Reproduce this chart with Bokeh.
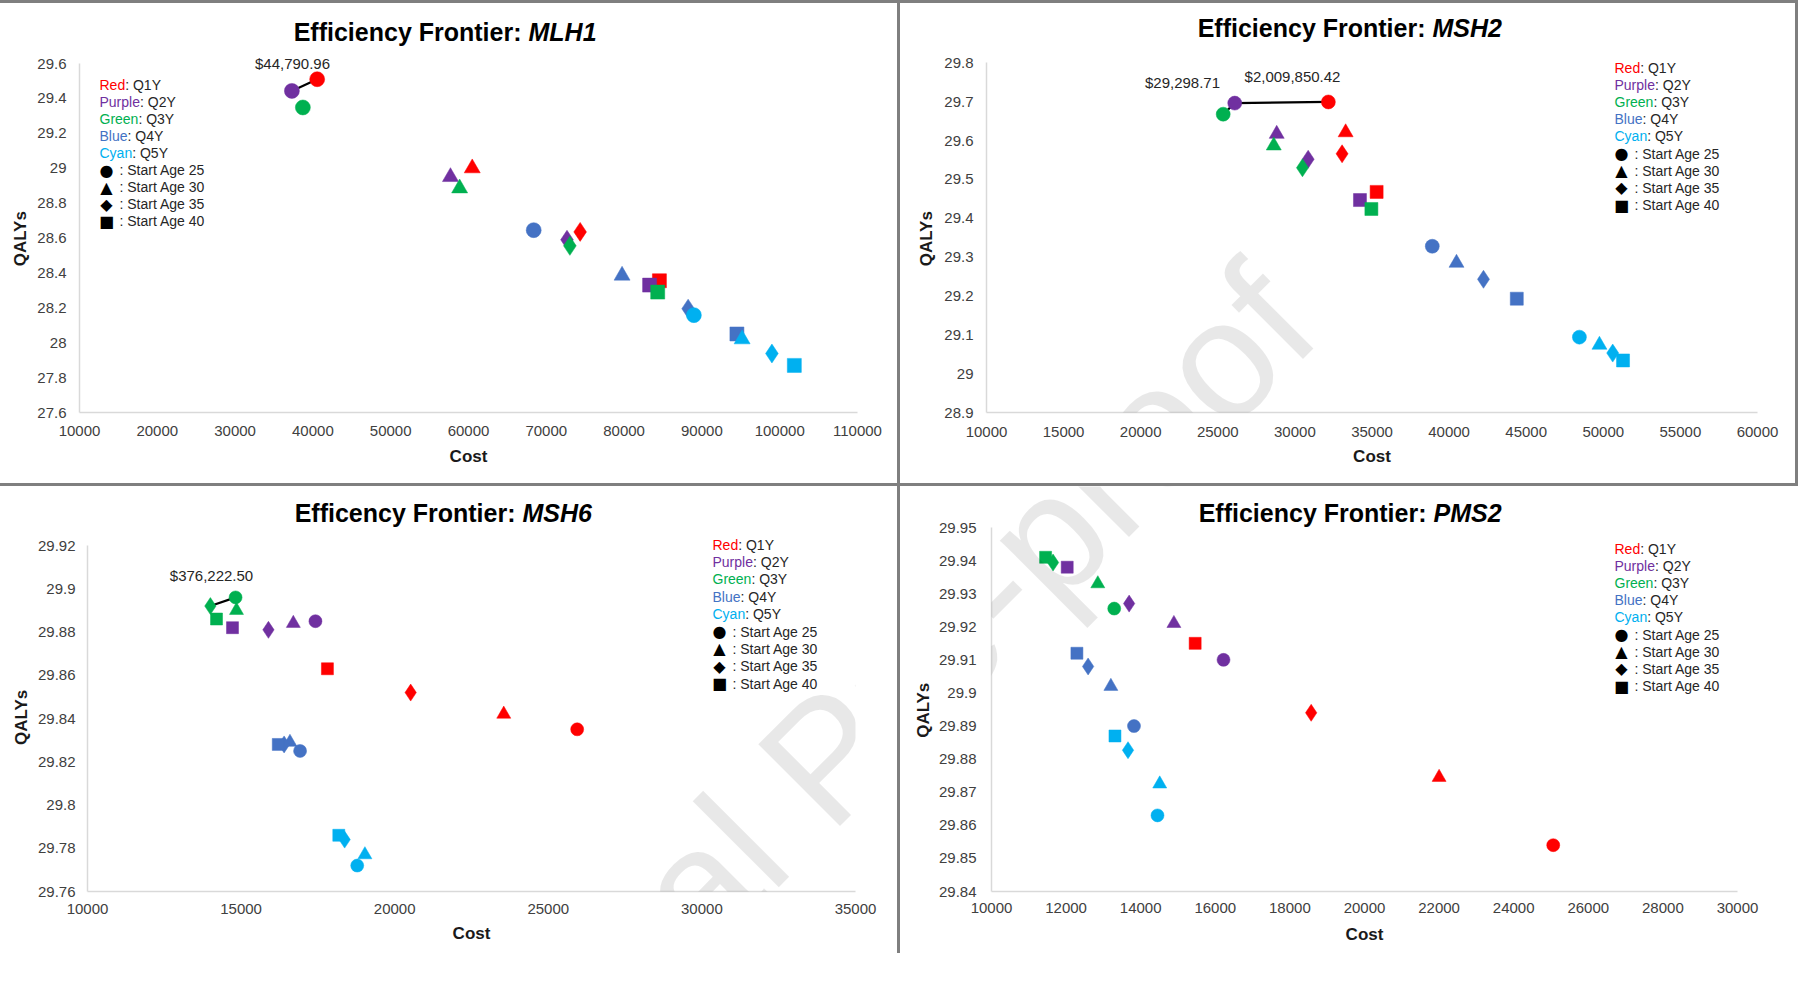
from bokeh.plotting import figure
from bokeh.models import Label, CustomJSTickFormatter, FixedTicker, Div
from bokeh.layouts import row, column
from bokeh.embed import file_html
from bokeh.resources import INLINE

# ---------------- data ----------------
SERIES = ["Q1Y", "Q2Y", "Q3Y", "Q4Y", "Q5Y"]
SERIES_WORDS = ["Red", "Purple", "Green", "Blue", "Cyan"]
START_AGES = [25, 30, 35, 40]

# values ordered series by series (Q1Y..Q5Y), start age 25, 30, 35, 40 within each
MLH1_COST = [40550, 60480, 74350, 84540,
             37300, 57680, 72660, 83280,
             38710, 58860, 73030, 84320,
             68380, 79740, 88230, 94500,
             88970, 95170, 99000, 101880]
MLH1_QALY = [29.51, 29.00, 28.635, 28.355,
             29.443, 28.95, 28.59, 28.33,
             29.348, 28.885, 28.555, 28.29,
             28.645, 28.385, 28.195, 28.05,
             28.158, 28.02, 27.938, 27.87]

MSH2_COST = [32170, 33290, 33060, 35300,
             26100, 28820, 30860, 34220,
             25350, 28630, 30490, 34960,
             38910, 40480, 42230, 44390,
             48450, 49750, 50610, 51280]
MSH2_QALY = [29.6995, 29.621, 29.566, 29.468,
             29.6965, 29.617, 29.552, 29.447,
             29.668, 29.587, 29.530, 29.424,
             29.328, 29.285, 29.243, 29.193,
             29.094, 29.074, 29.053, 29.034]

MSH6_COST = [25940, 23550, 20520, 17810,
             17420, 16700, 15890, 14720,
             14820, 14850, 14000, 14200,
             16920, 16590, 16400, 16210,
             18780, 19030, 18370, 18180]
MSH6_QALY = [29.835, 29.842, 29.852, 29.863,
             29.885, 29.884, 29.881, 29.882,
             29.896, 29.890, 29.892, 29.886,
             29.825, 29.829, 29.828, 29.828,
             29.772, 29.777, 29.784, 29.786]

PMS2_COST = [25060, 22000, 18570, 15460,
             16220, 14890, 13690, 12030,
             13290, 12850, 11650, 11450,
             13820, 13200, 12590, 12290,
             14450, 14510, 13660, 13310]
PMS2_QALY = [29.854, 29.8745, 29.894, 29.915,
             29.910, 29.921, 29.927, 29.938,
             29.9255, 29.933, 29.9394, 29.941,
             29.890, 29.902, 29.908, 29.912,
             29.863, 29.8725, 29.8827, 29.887]

# efficiency frontier: (series, start age) in order
MLH1_FRONTIER = [("Q2Y", 25), ("Q1Y", 25)]
MSH2_FRONTIER = [("Q3Y", 25), ("Q2Y", 25), ("Q1Y", 25)]
MSH6_FRONTIER = [("Q3Y", 35), ("Q3Y", 25)]
PMS2_FRONTIER = []

MLH1_ICER = ["$44,790.96"]
MSH2_ICER = ["$29,298.71", "$2,009,850.42"]
MSH6_ICER = ["$376,222.50"]
PMS2_ICER = []

MLH1_XTICKS = [10000, 20000, 30000, 40000, 50000, 60000, 70000, 80000, 90000, 100000, 110000]
MLH1_XLABELS = ["10000", "20000", "30000", "40000", "50000", "60000", "70000", "80000", "90000", "100000", "110000"]
MLH1_YTICKS = [27.6, 27.8, 28.0, 28.2, 28.4, 28.6, 28.8, 29.0, 29.2, 29.4, 29.6]
MLH1_YLABELS = ["27.6", "27.8", "28", "28.2", "28.4", "28.6", "28.8", "29", "29.2", "29.4", "29.6"]

MSH2_XTICKS = [10000, 15000, 20000, 25000, 30000, 35000, 40000, 45000, 50000, 55000, 60000]
MSH2_XLABELS = ["10000", "15000", "20000", "25000", "30000", "35000", "40000", "45000", "50000", "55000", "60000"]
MSH2_YTICKS = [28.9, 29.0, 29.1, 29.2, 29.3, 29.4, 29.5, 29.6, 29.7, 29.8]
MSH2_YLABELS = ["28.9", "29", "29.1", "29.2", "29.3", "29.4", "29.5", "29.6", "29.7", "29.8"]

MSH6_XTICKS = [10000, 15000, 20000, 25000, 30000, 35000]
MSH6_XLABELS = ["10000", "15000", "20000", "25000", "30000", "35000"]
MSH6_YTICKS = [29.76, 29.78, 29.80, 29.82, 29.84, 29.86, 29.88, 29.90, 29.92]
MSH6_YLABELS = ["29.76", "29.78", "29.8", "29.82", "29.84", "29.86", "29.88", "29.9", "29.92"]

PMS2_XTICKS = [10000, 12000, 14000, 16000, 18000, 20000, 22000, 24000, 26000, 28000, 30000]
PMS2_XLABELS = ["10000", "12000", "14000", "16000", "18000", "20000", "22000", "24000", "26000", "28000", "30000"]
PMS2_YTICKS = [29.84, 29.85, 29.86, 29.87, 29.88, 29.89, 29.90, 29.91, 29.92, 29.93, 29.94, 29.95]
PMS2_YLABELS = ["29.84", "29.85", "29.86", "29.87", "29.88", "29.89", "29.9", "29.91", "29.92", "29.93", "29.94", "29.95"]

# ---------------- styling ----------------
COLORS = ["#FF0000", "#7030A0", "#00B050", "#4472C4", "#00B0F0"]
MARKERS = ["circle", "triangle", "diamond", "square"]
LEGEND_GLYPHS = ["\u25CF", "\u25B2", "\u25C6", "\u25A0"]
FONT = "Liberation Sans"
WATERMARK = "Journal Pre-proof"
NBSP = "\u00a0"

ARIAL_W = {"R": .722, "e": .556, "d": .556, "P": .667, "u": .556, "r": .333, "p": .556,
           "l": .222, "G": .778, "n": .556, "B": .667, "C": .722, "y": .5, "a": .556}


def text_w(s, size):
    return sum(ARIAL_W.get(c, .556) for c in s) * size


# geometry (pixels in the page): ox/oy = figure origin, L/R/T/B = plot-area margins
PANELS = [
    dict(gene="MLH1", prefix="Efficiency Frontier:", cost=MLH1_COST, qaly=MLH1_QALY,
         frontier=MLH1_FRONTIER, icer=MLH1_ICER, icer_pos=[(292, 63)],
         xt=MLH1_XTICKS, xl=MLH1_XLABELS, yt=MLH1_YTICKS, yl=MLH1_YLABELS,
         ox=0, oy=3, w=897, h=480, L=79, R=40, T=60, B=71, msize=15,
         join=(528, 31), leg=(99, 84, 17.1), ylstand=13, yastand=4, xlstand=13, xastand=8),
    dict(gene="MSH2", prefix="Efficiency Frontier:", cost=MSH2_COST, qaly=MSH2_QALY,
         frontier=MSH2_FRONTIER, icer=MSH2_ICER, icer_pos=[(1182, 86), (1292, 80)],
         xt=MSH2_XTICKS, xl=MSH2_XLABELS, yt=MSH2_YTICKS, yl=MSH2_YLABELS,
         ox=900, oy=3, w=895, h=480, L=86, R=38, T=60, B=67, msize=14,
         join=(1432, 31), leg=(1614, 71, 17.2), ylstand=13, yastand=5, xlstand=14, xastand=7),
    dict(gene="MSH6", prefix="Efficency Frontier:", cost=MSH6_COST, qaly=MSH6_QALY,
         frontier=MSH6_FRONTIER, icer=MSH6_ICER, icer_pos=[(211, 575)],
         xt=MSH6_XTICKS, xl=MSH6_XLABELS, yt=MSH6_YTICKS, yl=MSH6_YLABELS,
         ox=0, oy=486, w=897, h=496, L=87, R=42, T=59, B=91, msize=13,
         join=(522, 512), leg=(712, 544, 17.4), ylstand=12, yastand=4, xlstand=12, xastand=7),
    dict(gene="PMS2", prefix="Efficiency Frontier:", cost=PMS2_COST, qaly=PMS2_QALY,
         frontier=PMS2_FRONTIER, icer=PMS2_ICER, icer_pos=[],
         xt=PMS2_XTICKS, xl=PMS2_XLABELS, yt=PMS2_YTICKS, yl=PMS2_YLABELS,
         ox=900, oy=486, w=898, h=496, L=91, R=61, T=41, B=91, msize=13,
         join=(1433, 512), leg=(1614, 548, 17.2), ylstand=15, yastand=3, xlstand=11, xastand=9),
]

FMT_CODE = "const i = tv.findIndex(t => Math.abs(t - tick) < 1e-6); return i < 0 ? '' : tl[i];"


def make_panel(s):
    x0, x1 = s["xt"][0], s["xt"][-1]
    y0, y1 = s["yt"][0], s["yt"][-1]
    plot_h = s["h"] - s["T"] - s["B"]
    # the plot area is stretched up to the top edge so that titles/legends are not clipped;
    # the axes stay bounded to the tick range
    y_top = y1 + s["T"] * (y1 - y0) / plot_h

    p = figure(width=s["w"], height=s["h"],
               x_range=(x0, x1), y_range=(y0, y_top),
               output_backend="svg", toolbar_location=None,
               min_border_left=s["L"], min_border_right=s["R"],
               min_border_top=0, min_border_bottom=s["B"])
    p.grid.visible = False
    p.outline_line_color = None
    p.background_fill_color = "white"
    p.border_fill_color = "white"

    def sx(X):
        return X - s["ox"] - s["L"]

    def sy(Y):
        return (s["oy"] + s["h"] - s["B"]) - Y

    # vertical label: pad its end so its centre falls on the middle of the tick range
    n_pad = int(round(s["T"] / (0.278 * 17)))
    for ax, ticks, labels, lstand, astand, name, bounds in (
            (p.xaxis, s["xt"], s["xl"], s["xlstand"], s["xastand"], "Cost", (x0, x1)),
            (p.yaxis, s["yt"], s["yl"], s["ylstand"], s["yastand"], "QALYs" + NBSP * n_pad, (y0, y1))):
        ax.ticker = FixedTicker(ticks=ticks)
        ax.formatter = CustomJSTickFormatter(args=dict(tv=ticks, tl=labels), code=FMT_CODE)
        ax.bounds = bounds
        ax.axis_line_color = "#D9D9D9"
        ax.axis_line_width = 1.5
        ax.major_tick_line_color = None
        ax.minor_tick_line_color = None
        ax.major_tick_out = 0
        ax.major_tick_in = 0
        ax.minor_tick_out = 0
        ax.minor_tick_in = 0
        ax.major_label_text_font = FONT
        ax.major_label_text_font_size = "15px"
        ax.major_label_text_color = "#404040"
        ax.major_label_standoff = lstand
        ax.axis_label = name
        ax.axis_label_text_font = FONT
        ax.axis_label_text_font_style = "bold"
        ax.axis_label_text_font_size = "17px"
        ax.axis_label_text_color = "#1a1a1a"
        ax.axis_label_standoff = astand

    cost, qaly = s["cost"], s["qaly"]

    # frontier line
    if s["frontier"]:
        fx = [cost[SERIES.index(q) * 4 + START_AGES.index(a)] for q, a in s["frontier"]]
        fy = [qaly[SERIES.index(q) * 4 + START_AGES.index(a)] for q, a in s["frontier"]]
        p.line(fx, fy, line_color="black", line_width=2.2)

    # markers
    m = s["msize"]
    size_adj = {"circle": 0, "triangle": 1, "diamond": 4, "square": -1}
    for si, col in enumerate(COLORS):
        for ai, mk in enumerate(MARKERS):
            i = si * 4 + ai
            p.scatter([cost[i]], [qaly[i]], marker=mk, size=m + size_adj[mk],
                      fill_color=col, line_color=col, line_width=0.5)

    # title
    jx, jy = s["join"]
    p.add_layout(Label(x=sx(jx) - 7, y=sy(jy), x_units="screen", y_units="screen",
                       text=s["prefix"], text_font=FONT, text_font_size="25px",
                       text_font_style="bold", text_align="right", text_baseline="middle",
                       text_color="black"))
    p.add_layout(Label(x=sx(jx), y=sy(jy), x_units="screen", y_units="screen",
                       text=s["gene"], text_font=FONT, text_font_size="25px",
                       text_font_style="bold italic", text_align="left", text_baseline="middle",
                       text_color="black"))

    # ICER labels
    for txt, (X, Y) in zip(s["icer"], s["icer_pos"]):
        p.add_layout(Label(x=sx(X), y=sy(Y), x_units="screen", y_units="screen",
                           text=txt, text_font=FONT, text_font_size="15px",
                           text_align="center", text_baseline="middle", text_color="#262626"))

    # legend
    lx, ly, step = s["leg"]
    for k, (word, q, col) in enumerate(zip(SERIES_WORDS, SERIES, COLORS)):
        Y = ly + k * step
        p.add_layout(Label(x=sx(lx), y=sy(Y), x_units="screen", y_units="screen",
                           text=word, text_font=FONT, text_font_size="14px",
                           text_align="left", text_baseline="middle", text_color=col))
        p.add_layout(Label(x=sx(lx + text_w(word, 14)), y=sy(Y), x_units="screen", y_units="screen",
                           text=": " + q, text_font=FONT, text_font_size="14px",
                           text_align="left", text_baseline="middle", text_color="#262626"))
    for k, (g, a) in enumerate(zip(LEGEND_GLYPHS, START_AGES)):
        Y = ly + (5 + k) * step
        p.add_layout(Label(x=sx(lx + 7), y=sy(Y), x_units="screen", y_units="screen",
                           text=g, text_font="DejaVu Sans", text_font_size="16px",
                           text_align="center", text_baseline="middle", text_color="black"))
        p.add_layout(Label(x=sx(lx + 20), y=sy(Y), x_units="screen", y_units="screen",
                           text=": Start Age %d" % a, text_font=FONT, text_font_size="14px",
                           text_align="left", text_baseline="middle", text_color="#262626"))

    # watermark (continuous across the four panels)
    p.add_layout(Label(x=sx(825), y=sy(758), x_units="screen", y_units="screen",
                       text=WATERMARK, text_font=FONT, text_font_size="168px",
                       angle=45, angle_units="deg", text_align="center", text_baseline="middle",
                       text_color="black", text_alpha=0.09))
    return p


figs = [make_panel(s) for s in PANELS]

LINE = "#7F7F7F"


def bar(w, h):
    return Div(text="", width=w, height=h, margin=0, styles={"background-color": LINE})


layout = column(
    bar(1798, 3),
    row(figs[0], bar(3, 480), figs[1], bar(3, 480), spacing=0),
    bar(1798, 3),
    row(figs[2], bar(3, 467), figs[3], spacing=0),
    spacing=0,
)

open("out.html", "w").write(file_html(layout, INLINE))
